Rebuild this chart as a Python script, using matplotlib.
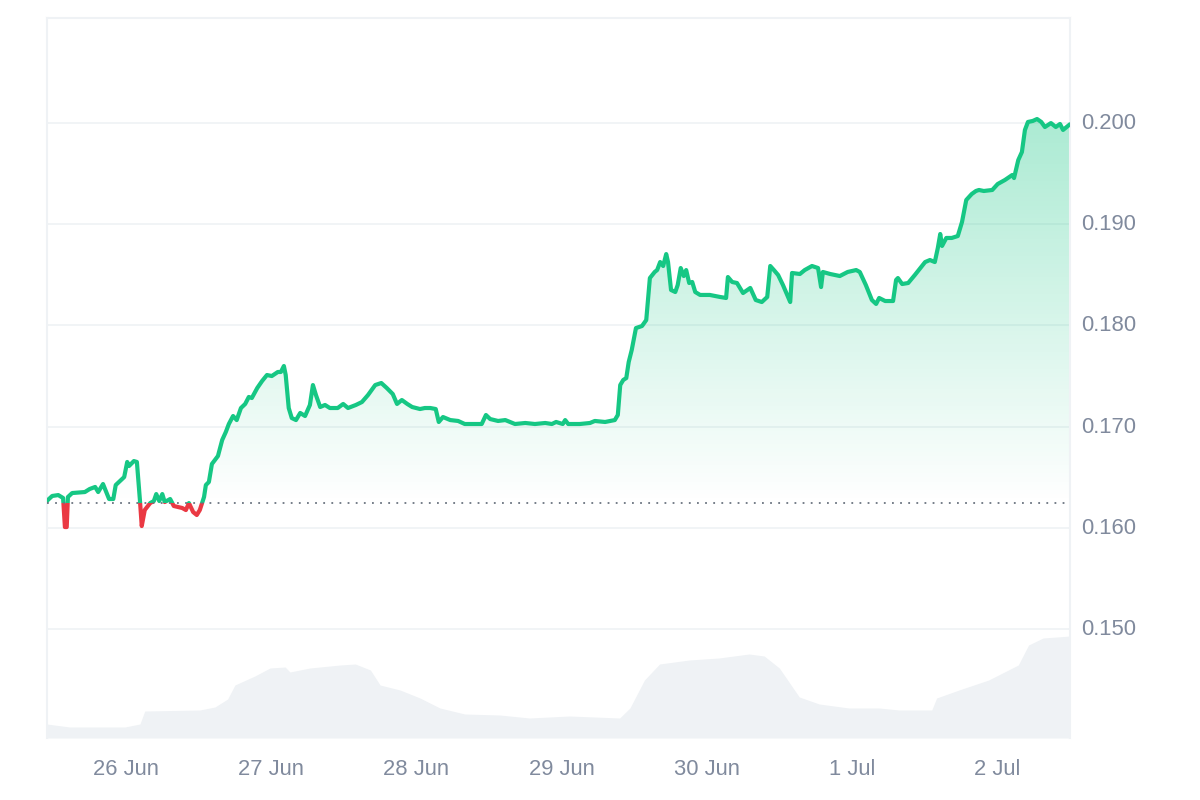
import numpy as np
import matplotlib
matplotlib.use('Agg')
from matplotlib import pyplot as plt
from matplotlib.colors import LinearSegmentedColormap
from matplotlib.patches import Rectangle
from matplotlib.transforms import ScaledTranslation

# hours since 26 Jun 00:00
hours = [-13.1, -12.2, -11.2, -10.4, -10.1, -9.8, -9.6, -8.9, -6.8, -6.0, -5.1, -4.6, -3.8, -2.8, -2.1, -1.7, -1.0, -0.3,
         0.2, 0.5, 1.3, 1.8, 2.3, 2.6, 3.1, 4.0, 4.6, 5.0, 5.5, 6.0, 6.4, 7.3, 7.9, 9.3, 9.9, 10.4, 11.1, 11.7, 12.2, 12.9,
         13.2, 13.7, 14.2, 15.2, 15.9, 16.5, 17.0, 17.7, 18.3, 19.0, 19.7, 20.3, 20.8, 21.7, 22.5, 23.3, 24.1, 25.1, 25.6,
         26.1, 26.4, 26.9, 27.4, 28.1, 28.8, 29.6, 30.4, 30.9, 31.4, 32.1, 32.9, 33.7, 35.0, 35.9, 36.7, 38.0, 39.0, 40.0,
         41.2, 42.2, 43.1, 44.1, 44.8, 45.6, 46.5, 47.3, 48.6, 49.4, 50.3, 51.2, 51.7, 52.4, 53.6, 54.9, 56.0, 57.7, 58.8,
         59.5, 60.2, 61.5, 62.7, 64.3, 66.0, 67.6, 69.3, 70.4, 71.1, 72.2, 72.6, 73.1, 75.0, 76.7, 77.5, 79.2, 80.8, 81.3,
         81.7, 82.2, 82.7, 83.1, 83.6, 84.3, 85.3, 86.0, 86.6, 87.4, 87.8, 88.3, 88.8, 89.3, 89.6, 90.1, 90.8, 91.2, 91.7,
         92.2, 92.6, 93.1, 93.6, 94.1, 94.9, 96.5, 98.2, 99.2, 99.5, 100.2, 101.0, 102.0, 103.2, 104.1, 105.1, 106.0, 106.5,
         107.1, 107.8, 108.6, 109.8, 110.1, 111.4, 112.2, 113.4, 114.4, 114.9, 115.2, 116.4, 118.0, 119.3, 120.7, 121.3,
         122.3, 123.3, 124.0, 124.5, 125.5, 126.8, 127.3, 127.6, 128.3, 129.3, 130.4, 132.1, 132.9, 133.7, 134.2, 134.6,
         134.9, 135.6, 136.5, 137.5, 138.2, 138.9, 139.8, 140.5, 141.0, 141.8, 143.2, 144.1, 145.3, 146.5, 146.8, 147.5,
         148.1, 148.6, 149.1, 149.9, 150.6, 151.3, 151.9, 152.9, 153.7, 154.4, 154.9, 155.9]
prices = [.16265, .16315, .16324, .16295, .16008, .16008, .16305, .16344, .16354, .16384, .16404, .16354, .16433, .16285, .16285, .16423, .16463, .16502,
          .16651, .16611, .16660, .16651, .16275, .16018, .16176, .16245, .16265, .16334, .16265, .16334, .16255, .16285, .16216, .16196, .16176, .16245, .16156, .16127, .16176, .16305,
          .16423, .16453, .16631, .16710, .16868, .16947, .17026, .17105, .17065, .17184, .17224, .17293, .17283, .17382, .17451, .17510, .17500, .17540, .17540,
          .17599, .17510, .17184, .17085, .17065, .17135, .17105, .17214, .17411, .17312, .17194, .17214, .17184, .17184, .17224, .17184, .17214, .17243, .17312,
          .17411, .17431, .17382, .17322, .17224, .17263, .17224, .17194, .17174, .17184, .17184, .17174, .17046, .17095, .17065, .17056, .17026, .17026, .17026,
          .17115, .17075, .17056, .17065, .17026, .17036, .17026, .17036, .17026, .17046, .17026, .17065, .17026, .17026, .17036, .17056, .17046, .17065, .17115,
          .17411, .17461, .17480, .17638, .17757, .17974, .17994, .18053, .18468, .18528, .18547, .18626, .18587, .18705, .18626, .18350, .18330, .18399, .18567,
          .18488, .18547, .18419, .18429, .18330, .18301, .18301, .18281, .18271, .18478, .18429, .18419, .18320, .18370, .18251, .18231, .18281, .18587,
          .18547, .18498, .18399, .18231, .18518, .18508, .18547, .18587, .18567, .18379, .18528, .18508, .18488, .18528, .18547, .18528,
          .18399, .18251, .18212, .18271, .18241, .18241, .18449, .18468, .18409, .18419, .18498, .18626, .18646, .18626, .18765, .18903,
          .18785, .18864, .18864, .18883, .19022, .19239, .19298, .19328, .19338, .19328, .19338, .19397, .19437, .19486, .19456, .19634,
          .19713, .19931, .20010, .20020, .20039, .20010, .19960, .19999, .19960, .19990, .19931, .19980]
baseline_price = 0.16245

volume_hours = [-13.1, -9.3, -0.2, 2.3, 3.1, 12.2, 14.7, 16.8, 18.0, 21.3, 23.8, 26.3, 27.1, 30.4, 35.4, 37.9, 40.4, 42.0, 45.3, 48.6,
                51.9, 56.0, 61.8, 66.7, 73.3, 81.6, 83.3, 85.7, 88.2, 93.1, 98.0, 103.0, 105.5, 108.0, 111.3, 114.6, 119.5, 124.5,
                127.8, 133.2, 134.0, 137.7, 142.6, 147.5, 149.2, 151.6, 156.1]
volume = [14, 11, 11, 14, 27, 28, 31, 39, 53, 62, 70, 71, 66, 70, 73, 74, 68, 53, 48, 40,
          30, 24, 23, 20, 22, 20, 30, 58, 74, 78, 80, 84, 82, 70, 41, 34, 30, 30,
          28, 28, 40, 48, 58, 73, 93, 100, 102]

tick_hours = [0, 24, 48, 72, 96, 120, 144]
tick_labels = ['26 Jun', '27 Jun', '28 Jun', '29 Jun', '30 Jun', '1 Jul', '2 Jul']
price_ticks = [0.150, 0.160, 0.170, 0.180, 0.190, 0.200]

GREEN = '#16C784'
RED = '#EA3943'
GREY = '#808A9D'
BORDER = '#EFF2F5'

plt.rcParams['font.family'] = ['Liberation Sans', 'DejaVu Sans']

fig = plt.figure(figsize=(12, 8), dpi=100)
ax = fig.add_axes([47 / 1200, 62 / 800, 1023 / 1200, 720 / 800])
xlim = (-13.06, 156.05)
ylim = (0.13924, 0.21037)

# volume goes on its own hidden axis, behind the price
vol_ax = ax.twinx()
vol_ax.set_ylim(0, 720)
vol_ax.fill_between(volume_hours, volume, 0, color=BORDER, lw=0)
vol_ax.set_axis_off()
ax.set_zorder(vol_ax.get_zorder() + 1)
ax.patch.set_visible(False)

# gradient fill between the price and the baseline
poly = ax.fill_between(hours, prices, baseline_price, color='none', lw=0)
clip = poly.get_paths()[0]
green_cm = LinearSegmentedColormap.from_list('g', [(0.086, 0.78, 0.518, 0.36), (0.086, 0.78, 0.518, 0.0)])
red_cm = LinearSegmentedColormap.from_list('r', [(0.918, 0.224, 0.263, 0.0), (0.918, 0.224, 0.263, 0.3)])
ramp = np.linspace(0, 1, 256)[:, None]
im = ax.imshow(ramp, cmap=green_cm, aspect='auto', origin='upper', zorder=2,
               extent=(xlim[0], xlim[1], baseline_price, max(prices)))
im.set_clip_path(clip, ax.transData)
im2 = ax.imshow(ramp, cmap=red_cm, aspect='auto', origin='upper', zorder=2,
                extent=(xlim[0], xlim[1], min(prices), baseline_price))
im2.set_clip_path(clip, ax.transData)

# same line twice, clipped at the baseline
up, = ax.plot(hours, prices, color=GREEN, lw=3.0, zorder=4, solid_joinstyle='round')
down, = ax.plot(hours, prices, color=RED, lw=3.0, zorder=4, solid_joinstyle='round')
up.set_clip_path(Rectangle((xlim[0], baseline_price), xlim[1] - xlim[0], ylim[1] - baseline_price, transform=ax.transData))
down.set_clip_path(Rectangle((xlim[0], ylim[0]), xlim[1] - xlim[0], baseline_price - ylim[0], transform=ax.transData))

ax.axhline(baseline_price, color='#6b7480', lw=1.3, ls=(0, (1, 3.5)), zorder=5)

ax.set_xlim(xlim)
ax.set_ylim(ylim)
ax.set_xticks(tick_hours)
ax.set_xticklabels(tick_labels)
ax.yaxis.tick_right()
ax.set_yticks(price_ticks)
ax.set_yticklabels(['{:.3f}'.format(p) for p in price_ticks])
ax.tick_params(axis='x', length=0, pad=15, labelsize=15.8, labelcolor=GREY)
ax.tick_params(axis='y', length=0, pad=8, labelsize=15.8, labelcolor=GREY)
ax.grid(axis='y', color=BORDER, lw=1.2, zorder=1)
ax.set_axisbelow(True)

# y labels sit a touch above their gridlines
nudge = ScaledTranslation(0, 1.5 / 72, fig.dpi_scale_trans)
for lab in ax.get_yticklabels():
    lab.set_transform(lab.get_transform() + nudge)

for side in ['top', 'left', 'right']:
    ax.spines[side].set_color(BORDER)
    ax.spines[side].set_linewidth(1.5)
ax.spines['bottom'].set_visible(False)

fig.savefig('out.png', dpi=100, facecolor='white')
